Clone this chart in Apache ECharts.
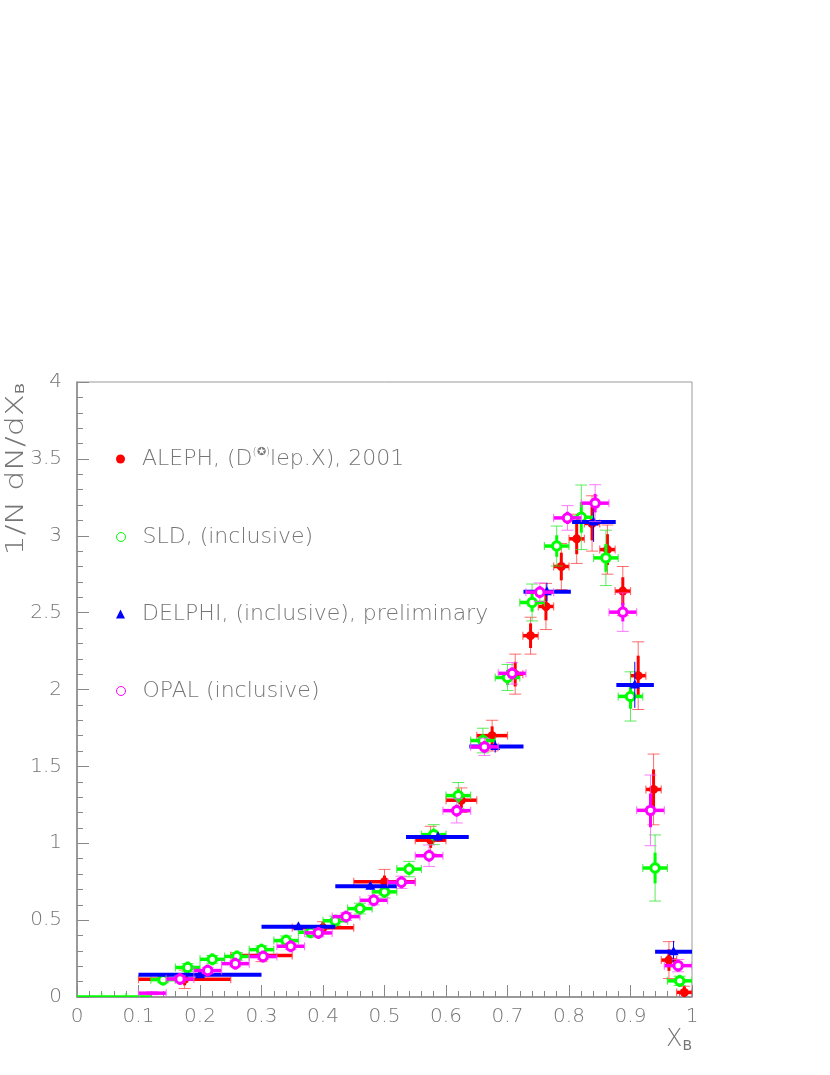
<!DOCTYPE html>
<html>
<head>
<meta charset="utf-8">
<script src="https://cdn.jsdelivr.net/npm/echarts@6.0.0/dist/echarts.min.js"></script>
<style>
  html, body { margin: 0; padding: 0; background: #fff; }
  #chart { width: 830px; height: 1075px; }
</style>
</head>
<body>
<div id="chart"></div>
<script>
// ALEPH (D(*) lep X), 2001 : bin centre, bin edges, value, stat error, total error
const alephX    = [0.175, 0.30, 0.40, 0.50, 0.575, 0.625, 0.675, 0.7125, 0.7375, 0.7625, 0.7875, 0.8125, 0.8375, 0.8625, 0.8875, 0.9125, 0.9375, 0.9625, 0.9875];
const alephXlo  = [0.10, 0.25, 0.35, 0.45, 0.55, 0.60, 0.65, 0.70, 0.725, 0.75, 0.775, 0.80, 0.825, 0.85, 0.875, 0.90, 0.925, 0.95, 0.975];
const alephXhi  = [0.25, 0.35, 0.45, 0.55, 0.60, 0.65, 0.70, 0.725, 0.75, 0.775, 0.80, 0.825, 0.85, 0.875, 0.90, 0.925, 0.95, 0.975, 1.0];
const alephY    = [0.115, 0.27, 0.45, 0.75, 1.02, 1.28, 1.70, 2.10, 2.35, 2.54, 2.80, 2.98, 3.08, 2.91, 2.64, 2.09, 1.35, 0.24, 0.03];
const alephStat = [0.03, 0.02, 0.02, 0.04, 0.05, 0.05, 0.06, 0.08, 0.08, 0.09, 0.09, 0.10, 0.11, 0.10, 0.09, 0.13, 0.13, 0.07, 0.02];
const alephTot  = [0.06, 0.04, 0.04, 0.08, 0.09, 0.08, 0.10, 0.13, 0.12, 0.15, 0.15, 0.16, 0.18, 0.16, 0.16, 0.22, 0.23, 0.12, 0.04];

// SLD inclusive
const sldX    = [0.02, 0.06, 0.10, 0.14, 0.18, 0.22, 0.26, 0.30, 0.34, 0.38, 0.42, 0.46, 0.50, 0.54, 0.58, 0.62, 0.66, 0.70, 0.74, 0.78, 0.82, 0.86, 0.90, 0.94, 0.98];
const sldY    = [0, 0, 0, 0.113, 0.192, 0.245, 0.264, 0.308, 0.367, 0.421, 0.496, 0.575, 0.684, 0.832, 1.056, 1.310, 1.668, 2.078, 2.566, 2.933, 3.12, 2.856, 1.955, 0.839, 0.105];
const sldStat = [0, 0, 0, 0.01, 0.01, 0.01, 0.01, 0.015, 0.015, 0.015, 0.02, 0.02, 0.02, 0.025, 0.035, 0.045, 0.04, 0.05, 0.06, 0.07, 0.10, 0.09, 0.08, 0.10, 0.02];
const sldTot  = [0, 0, 0, 0.02, 0.025, 0.025, 0.025, 0.025, 0.03, 0.03, 0.03, 0.035, 0.04, 0.05, 0.065, 0.085, 0.08, 0.085, 0.12, 0.13, 0.21, 0.18, 0.16, 0.215, 0.03];
const sldHalfW = 0.02;

// DELPHI inclusive, preliminary
const delphiX   = [0.20, 0.36, 0.477, 0.587, 0.68, 0.764, 0.84, 0.907, 0.97];
const delphiXlo = [0.10, 0.30, 0.42, 0.535, 0.638, 0.726, 0.805, 0.877, 0.94];
const delphiXhi = [0.30, 0.42, 0.52, 0.637, 0.726, 0.803, 0.876, 0.938, 1.0];
const delphiY   = [0.145, 0.457, 0.72, 1.04, 1.63, 2.635, 3.09, 2.03, 0.295];
const delphiErr = [0.01, 0.015, 0.02, 0.03, 0.04, 0.06, 0.13, 0.15, 0.07];

// OPAL inclusive
const opalX    = [0.1225, 0.1675, 0.2125, 0.2575, 0.3025, 0.3475, 0.3925, 0.4375, 0.4825, 0.5275, 0.5725, 0.6175, 0.6625, 0.7075, 0.7525, 0.7975, 0.8425, 0.8875, 0.9325, 0.9775];
const opalY    = [0.025, 0.117, 0.172, 0.217, 0.263, 0.33, 0.417, 0.523, 0.629, 0.746, 0.919, 1.212, 1.627, 2.105, 2.633, 3.116, 3.212, 2.503, 1.214, 0.204];
const opalStat = [0, 0.01, 0.01, 0.01, 0.01, 0.01, 0.012, 0.012, 0.015, 0.02, 0.03, 0.035, 0.025, 0.035, 0.03, 0.04, 0.06, 0.06, 0.11, 0.02];
const opalTot  = [0.01, 0.02, 0.02, 0.02, 0.02, 0.02, 0.025, 0.025, 0.03, 0.04, 0.07, 0.08, 0.056, 0.07, 0.06, 0.08, 0.12, 0.125, 0.23, 0.04];
const opalHalfW = 0.0225;

const names = [
  'ALEPH, (D(*)lep.X), 2001',
  'SLD, (inclusive)',
  'DELPHI, (inclusive), preliminary',
  'OPAL (inclusive)'
];
const legendTops = [459, 537, 614, 691];

const textGrey = '#757575';
const fontFam = "'DejaVu Sans', sans-serif";

// [x, y, xlo, xhi, stat, total, showMarker]
function rows(xs, ys, xlo, xhi, st, tot, skipLowMarker) {
  return xs.map(function (x, i) {
    var mk = ys[i] > 0 ? 1 : 0;
    if (skipLowMarker && i === 0) mk = 0;
    return [x, ys[i], xlo[i], xhi[i], st ? st[i] : 0, tot[i], mk];
  });
}

const alephData = rows(alephX, alephY, alephXlo, alephXhi, alephStat, alephTot);
const sldData = rows(sldX, sldY, sldX.map(v => v - sldHalfW), sldX.map(v => v + sldHalfW), sldStat, sldTot);
const delphiData = rows(delphiX, delphiY, delphiXlo, delphiXhi, null, delphiErr);
const opalData = rows(opalX, opalY, opalX.map(v => v - opalHalfW), opalX.map(v => v + opalHalfW), opalStat, opalTot, true);

function seg(x1, y1, x2, y2, color, w) {
  return { type: 'line', shape: { x1: x1, y1: y1, x2: x2, y2: y2 }, style: { stroke: color, lineWidth: w } };
}

function makeRender(sty) {
  return function (params, api) {
    var x = api.value(0), y = api.value(1);
    var st = api.value(4), tot = api.value(5), mk = api.value(6);
    var c = api.coord([x, y]);
    var l = api.coord([api.value(2), y]);
    var r = api.coord([api.value(3), y]);
    var kids = [];
    if (tot > 0) {
      var t = api.coord([x, y + tot])[1];
      var b = api.coord([x, y - tot])[1];
      kids.push(seg(c[0], t, c[0], b, sty.thin, 1));
      if (sty.ycap) {
        kids.push(seg(c[0] - 6, t, c[0] + 6, t, sty.thin, 1));
        kids.push(seg(c[0] - 6, b, c[0] + 6, b, sty.thin, 1));
      }
    }
    if (st > 0) {
      var ts = api.coord([x, y + st])[1];
      var bs = api.coord([x, y - st])[1];
      kids.push(seg(c[0], Math.min(ts, c[1] - 6), c[0], Math.max(bs, c[1] + 6), sty.color, 3));
    }
    kids.push(seg(l[0], c[1], r[0], c[1], sty.color, sty.barW));
    if (sty.xcap) {
      kids.push(seg(l[0], c[1] - 4, l[0], c[1] + 4, sty.thin, 1.2));
      kids.push(seg(r[0], c[1] - 4, r[0], c[1] + 4, sty.thin, 1.2));
    }
    if (mk) {
      if (sty.marker === 'dot') {
        kids.push({ type: 'circle', shape: { cx: c[0], cy: c[1], r: 4.5 }, style: { fill: sty.color } });
      } else if (sty.marker === 'ring') {
        kids.push({ type: 'circle', shape: { cx: c[0], cy: c[1], r: 4.2 }, style: { fill: '#fff', stroke: sty.color, lineWidth: 3 } });
      } else {
        kids.push({ type: 'polygon', shape: { points: [[c[0], c[1] - 5.5], [c[0] - 5, c[1] + 3.5], [c[0] + 5, c[1] + 3.5]] }, style: { fill: sty.color } });
      }
    }
    return { type: 'group', children: kids };
  };
}

function legendFor(i, icon, itemStyle) {
  return {
    left: 111,
    top: legendTops[i] - 18,
    orient: 'vertical',
    selectedMode: false,
    itemWidth: 9,
    itemHeight: 9,
    data: [{ name: names[i], icon: icon, itemStyle: itemStyle }],
    formatter: function (n) {
      return n === names[0] ? 'ALEPH, (D{sup|(✪)}lep.X), 2001' : n;
    },
    textStyle: {
      color: textGrey,
      fontFamily: fontFam,
      fontWeight: 200,
      fontSize: 22,
      lineHeight: 26,
      padding: [0, 0, 0, 12],
      rich: {
        sup: { fontSize: 11, color: textGrey, fontFamily: fontFam, padding: [0, 0, 14, 0] }
      }
    }
  };
}

const chart = echarts.init(document.getElementById('chart'), null, { renderer: 'canvas' });

chart.setOption({
  backgroundColor: '#fff',
  animation: false,
  grid: { left: 77, right: 138, top: 382, bottom: 78, show: true, borderColor: '#999', borderWidth: 1 },
  legend: [
    legendFor(0, 'circle', { color: '#ff0000' }),
    legendFor(1, 'circle', { color: 'rgba(0,0,0,0)', borderColor: '#00ff00', borderWidth: 1 }),
    legendFor(2, 'triangle', { color: '#0000ff' }),
    legendFor(3, 'circle', { color: 'rgba(0,0,0,0)', borderColor: '#ff00ff', borderWidth: 1 })
  ],
  xAxis: {
    type: 'value',
    min: 0,
    max: 1,
    interval: 0.1,
    axisLine: { lineStyle: { color: '#888', width: 1.5 } },
    axisTick: { inside: true, length: 12, lineStyle: { color: '#888' } },
    minorTick: { show: true, splitNumber: 5, length: 6, lineStyle: { color: '#888' } },
    splitLine: { show: false },
    axisLabel: { color: textGrey, fontFamily: fontFam, fontWeight: 200, fontSize: 20, margin: 10 }
  },
  yAxis: {
    type: 'value',
    min: 0,
    max: 4,
    interval: 0.5,
    axisLine: { show: true, lineStyle: { color: '#888', width: 1.5 } },
    axisTick: { show: true, inside: true, length: 12, lineStyle: { color: '#888' } },
    minorTick: { show: true, splitNumber: 5, length: 6, lineStyle: { color: '#888' } },
    splitLine: { show: false },
    axisLabel: { color: textGrey, fontFamily: fontFam, fontWeight: 200, fontSize: 20, margin: 15 }
  },
  graphic: [
    {
      type: 'text',
      x: 16,
      y: 383,
      rotation: Math.PI / 2,
      scaleX: 1.27,
      style: {
        text: '1/N dN/dX{b|B}',
        align: 'right',
        verticalAlign: 'middle',
        fill: textGrey,
        font: '200 25px ' + fontFam,
        rich: { b: { fontSize: 13, fill: textGrey, fontFamily: fontFam, padding: [10, 0, 0, 0] } }
      }
    },
    {
      type: 'text',
      x: 692,
      y: 1040,
      style: {
        text: 'X{b|B}',
        align: 'right',
        verticalAlign: 'middle',
        fill: textGrey,
        font: '200 24px ' + fontFam,
        rich: { b: { fontSize: 14, fill: textGrey, fontFamily: fontFam, padding: [12, 0, 0, 0] } }
      }
    }
  ],
  series: [
    {
      name: names[0], type: 'custom', clip: true, encode: { x: 0, y: 1 },
      renderItem: makeRender({ color: '#ff0000', thin: 'rgba(255,60,60,0.75)', barW: 3.5, xcap: true, ycap: true, marker: 'dot' }),
      data: alephData, z: 2
    },
    {
      name: names[1], type: 'custom', clip: true, encode: { x: 0, y: 1 },
      renderItem: makeRender({ color: '#00ff00', thin: 'rgba(40,230,40,0.75)', barW: 3.5, xcap: true, ycap: true, marker: 'ring' }),
      data: sldData, z: 3
    },
    {
      name: names[2], type: 'custom', clip: true, encode: { x: 0, y: 1 },
      renderItem: makeRender({ color: '#0000ff', thin: '#0000ff', barW: 4, xcap: false, ycap: false, marker: 'tri' }),
      data: delphiData, z: 4
    },
    {
      name: names[3], type: 'custom', clip: true, encode: { x: 0, y: 1 },
      renderItem: makeRender({ color: '#ff00ff', thin: 'rgba(255,80,255,0.75)', barW: 3.5, xcap: true, ycap: true, marker: 'ring' }),
      data: opalData, z: 5
    }
  ]
});
</script>
</body>
</html>
